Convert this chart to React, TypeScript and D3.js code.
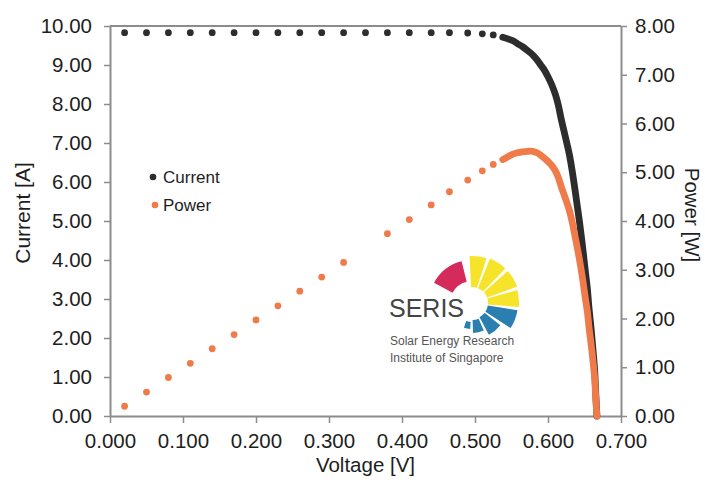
import React, { useEffect, useRef } from "react";
import * as d3 from "d3";

// sparse measured points (V, A, W)
const voltage = [0.02, 0.05, 0.08, 0.11, 0.14, 0.17, 0.2, 0.23, 0.26, 0.29, 0.32, 0.35, 0.38, 0.41, 0.44, 0.465, 0.49, 0.51, 0.525];
const current = [9.83, 9.83, 9.83, 9.83, 9.83, 9.83, 9.83, 9.83, 9.83, 9.83, 9.83, 9.83, 9.83, 9.83, 9.83, 9.83, 9.82, 9.8, 9.77];
const power = [0.2, 0.49, 0.79, 1.08, 1.38, 1.67, 1.97, 2.26, 2.56, 2.85, 3.15, null, 3.74, 4.03, 4.33, 4.6, 4.84, 5.03, 5.16];

// dense points around the knee
const kneeVoltage = [0.538, 0.545, 0.552, 0.558, 0.565, 0.572, 0.579, 0.585, 0.59, 0.595, 0.6, 0.605, 0.61, 0.614, 0.618, 0.622, 0.626, 0.629, 0.633, 0.637, 0.64, 0.643, 0.647, 0.651, 0.654, 0.656, 0.659, 0.662, 0.664, 0.665, 0.666, 0.667];
const kneeCurrent = [9.71, 9.67, 9.62, 9.55, 9.47, 9.37, 9.26, 9.13, 9.0, 8.87, 8.7, 8.5, 8.25, 7.98, 7.62, 7.3, 6.98, 6.73, 6.3, 5.8, 5.4, 5.0, 4.4, 3.74, 3.25, 2.8, 2.25, 1.61, 1.15, 0.74, 0.35, 0.0];
const kneePower = [5.26, 5.32, 5.37, 5.4, 5.42, 5.43, 5.43, 5.4, 5.35, 5.29, 5.22, 5.14, 5.03, 4.9, 4.71, 4.54, 4.37, 4.23, 3.99, 3.69, 3.46, 3.22, 2.85, 2.43, 2.13, 1.84, 1.48, 1.07, 0.76, 0.49, 0.23, 0.0];

const voltageTicks = [0, 0.1, 0.2, 0.3, 0.4, 0.5, 0.6, 0.7];
const currentTicks = [0, 1, 2, 3, 4, 5, 6, 7, 8, 9, 10];
const powerTicks = [0, 1, 2, 3, 4, 5, 6, 7, 8];

export default function App() {
  const ref = useRef<SVGSVGElement>(null);

  useEffect(() => {
    const svg = d3.select(ref.current);
    svg.selectAll("*").remove();

    const width = 705, height = 482;
    const margin = { top: 26, right: 84, bottom: 66, left: 110 };
    const font = "'Liberation Sans', Arial, Helvetica, sans-serif";
    const axisColor = "#8c8c8c";
    const black = "#2d2d2d";
    const orange = "#ef7a4a";

    const x = d3.scaleLinear().domain([0, 0.7]).range([margin.left, width - margin.right]);
    const yI = d3.scaleLinear().domain([0, 10]).range([height - margin.bottom, margin.top]);
    const yP = d3.scaleLinear().domain([0, 8]).range([height - margin.bottom, margin.top]);

    const styleAxis = (g: any) => {
      g.select(".domain").attr("stroke", axisColor).attr("stroke-width", 2);
      g.selectAll(".tick line").attr("stroke", axisColor).attr("stroke-width", 1.5);
      g.selectAll(".tick text")
        .attr("fill", "#1e1e1e")
        .attr("font-size", 20.5)
        .attr("font-family", font);
    };

    // top frame line
    svg.append("line")
      .attr("x1", margin.left).attr("x2", width - margin.right)
      .attr("y1", margin.top).attr("y2", margin.top)
      .attr("stroke", axisColor).attr("stroke-width", 2);

    svg.append("g")
      .attr("transform", "translate(0," + (height - margin.bottom) + ")")
      .call(d3.axisBottom(x).tickValues(voltageTicks).tickFormat(d3.format(".3f")).tickSize(7).tickSizeOuter(0).tickPadding(10))
      .call(styleAxis);

    svg.append("g")
      .attr("transform", "translate(" + margin.left + ",0)")
      .call(d3.axisLeft(yI).tickValues(currentTicks).tickFormat(d3.format(".2f")).tickSize(6).tickSizeOuter(0).tickPadding(12))
      .call(styleAxis);

    svg.append("g")
      .attr("transform", "translate(" + (width - margin.right) + ",0)")
      .call(d3.axisRight(yP).tickValues(powerTicks).tickFormat(d3.format(".2f")).tickSize(6).tickSizeOuter(0).tickPadding(8))
      .call(styleAxis);

    // axis titles
    svg.append("text")
      .attr("x", (margin.left + width - margin.right) / 2).attr("y", 472)
      .attr("text-anchor", "middle").attr("font-size", 20.5).attr("font-family", font).attr("fill", "#1e1e1e")
      .text("Voltage [V]");
    svg.append("text")
      .attr("transform", "translate(30,213) rotate(-90)")
      .attr("text-anchor", "middle").attr("font-size", 21).attr("font-family", font).attr("fill", "#1e1e1e")
      .text("Current [A]");
    svg.append("text")
      .attr("transform", "translate(685,215) rotate(90)")
      .attr("text-anchor", "middle").attr("font-size", 20.5).attr("font-family", font).attr("fill", "#1e1e1e")
      .text("Power [W]");

    // SERIS logo
    const logo = svg.append("g").attr("transform", "translate(472,303)");
    const deg = Math.PI / 180;
    const wedges = [
      { a0: -62, a1: -14, r0: 22, r1: 43, c: "#d42a5c" },
      { a0: -3, a1: 18, r0: 16, r1: 47, c: "#f6e42a" },
      { a0: 22, a1: 44, r0: 16, r1: 48, c: "#f6e42a" },
      { a0: 48, a1: 70, r0: 16, r1: 48, c: "#f6e42a" },
      { a0: 74, a1: 95, r0: 16, r1: 47, c: "#f6e42a" },
      { a0: 99, a1: 123, r0: 16, r1: 46, c: "#2b7fb0" },
      { a0: 128, a1: 152, r0: 16, r1: 36, c: "#2b7fb0" },
      { a0: 157, a1: 178, r0: 17, r1: 30, c: "#2b7fb0" },
      { a0: 184, a1: 198, r0: 19, r1: 26, c: "#2b7fb0" },
    ];
    const arc = d3.arc<any>()
      .innerRadius((d: any) => d.r0)
      .outerRadius((d: any) => d.r1)
      .startAngle((d: any) => d.a0 * deg)
      .endAngle((d: any) => d.a1 * deg);
    logo.selectAll("path").data(wedges).enter().append("path")
      .attr("d", arc as any).attr("fill", (d: any) => d.c);
    svg.append("text").attr("x", 389).attr("y", 317)
      .attr("font-size", 25).attr("font-family", font).attr("fill", "#444").text("SERIS");
    svg.append("text").attr("x", 390).attr("y", 345)
      .attr("font-size", 12).attr("font-family", font).attr("fill", "#555").text("Solar Energy Research");
    svg.append("text").attr("x", 390).attr("y", 361.5)
      .attr("font-size", 12).attr("font-family", font).attr("fill", "#555").text("Institute of Singapore");

    // knee (dense markers drawn as a thick marker trail)
    const kneeLine = (ys: number[], scale: any) => d3.line<number>()
      .x((d, i) => x(kneeVoltage[i]))
      .y((d) => scale(d))
      .curve(d3.curveCatmullRom)(ys);

    // current
    svg.append("g").selectAll("circle")
      .data(current).enter().append("circle")
      .attr("cx", (d, i) => x(voltage[i])).attr("cy", (d) => yI(d))
      .attr("r", 3.4).attr("fill", black);
    svg.append("path").attr("d", kneeLine(kneeCurrent, yI) as string)
      .attr("fill", "none").attr("stroke", black).attr("stroke-width", 6.8)
      .attr("stroke-linecap", "round").attr("stroke-linejoin", "round");

    // power
    const powerPts = power.map((p, i) => ({ v: voltage[i], p })).filter((d) => d.p !== null);
    svg.append("g").selectAll("circle")
      .data(powerPts).enter().append("circle")
      .attr("cx", (d) => x(d.v)).attr("cy", (d) => yP(d.p as number))
      .attr("r", 3.4).attr("fill", orange);
    svg.append("path").attr("d", kneeLine(kneePower, yP) as string)
      .attr("fill", "none").attr("stroke", orange).attr("stroke-width", 6.8)
      .attr("stroke-linecap", "round").attr("stroke-linejoin", "round");

    // legend
    const legend = [
      { name: "Current", color: black, cx: 153, cy: 177, ty: 182.5 },
      { name: "Power", color: orange, cx: 155, cy: 205, ty: 210.5 },
    ];
    const lg = svg.append("g").selectAll("g").data(legend).enter().append("g");
    lg.append("circle").attr("cx", (d) => d.cx).attr("cy", (d) => d.cy).attr("r", 3.3).attr("fill", (d) => d.color);
    lg.append("text").attr("x", 163).attr("y", (d) => d.ty)
      .attr("font-size", 17).attr("font-family", font).attr("fill", "#1e1e1e")
      .text((d) => d.name);
  }, []);

  return (
    <div style={{ position: "absolute", left: 0, top: 0 }}>
      <svg ref={ref} width={705} height={482} style={{ display: "block", background: "#fff" }} />
    </div>
  );
}
